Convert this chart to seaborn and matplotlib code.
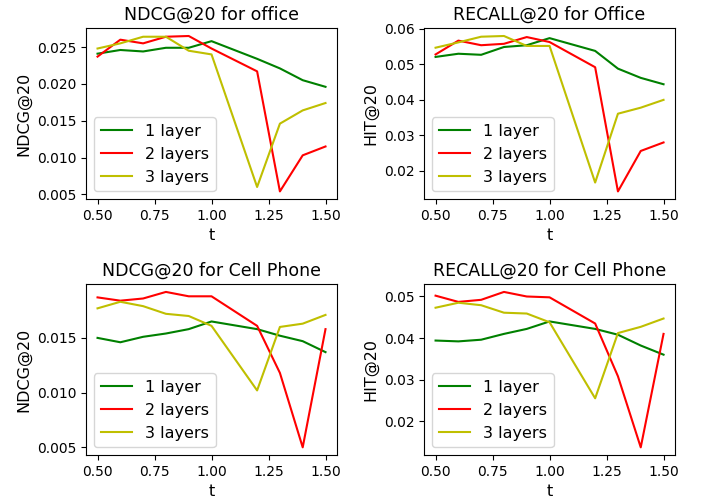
import numpy as np
import pandas as pd
import matplotlib
matplotlib.use("Agg")
import matplotlib.pyplot as plt
import seaborn as sns

# --- data ---
t = [0.5, 0.6, 0.7, 0.8, 0.9, 1.0, 1.2, 1.3, 1.4, 1.5]
layers = ["1 layer", "2 layers", "3 layers"]

ndcg_office_1 = [0.0241, 0.0246, 0.0244, 0.0249, 0.0249, 0.0258, 0.0234, 0.0221, 0.0205, 0.0196]
ndcg_office_2 = [0.0237, 0.0260, 0.0255, 0.0264, 0.0265, 0.0248, 0.0217, 0.0054, 0.0103, 0.0115]
ndcg_office_3 = [0.0248, 0.0255, 0.0264, 0.0264, 0.0245, 0.0240, 0.0060, 0.0146, 0.0164, 0.0174]

recall_office_1 = [0.0521, 0.0530, 0.0527, 0.0549, 0.0554, 0.0574, 0.0538, 0.0488, 0.0462, 0.0444]
recall_office_2 = [0.0528, 0.0567, 0.0554, 0.0558, 0.0577, 0.0563, 0.0492, 0.0142, 0.0256, 0.0280]
recall_office_3 = [0.0547, 0.0562, 0.0578, 0.0580, 0.0552, 0.0552, 0.0167, 0.0361, 0.0378, 0.0400]

ndcg_phone_1 = [0.0150, 0.0146, 0.0151, 0.0154, 0.0158, 0.0165, 0.0158, 0.0152, 0.0147, 0.0137]
ndcg_phone_2 = [0.0187, 0.0184, 0.0186, 0.0192, 0.0188, 0.0188, 0.0161, 0.0118, 0.0050, 0.0158]
ndcg_phone_3 = [0.0177, 0.0183, 0.0179, 0.0172, 0.0170, 0.0161, 0.0102, 0.0160, 0.0163, 0.0171]

recall_phone_1 = [0.0394, 0.0392, 0.0396, 0.0410, 0.0422, 0.0440, 0.0422, 0.0408, 0.0382, 0.0360]
recall_phone_2 = [0.0502, 0.0487, 0.0492, 0.0511, 0.0500, 0.0498, 0.0435, 0.0308, 0.0137, 0.0410]
recall_phone_3 = [0.0473, 0.0485, 0.0479, 0.0461, 0.0459, 0.0438, 0.0255, 0.0412, 0.0427, 0.0447]

panels = [
    ("NDCG@20 for office", "NDCG@20", [ndcg_office_1, ndcg_office_2, ndcg_office_3]),
    ("RECALL@20 for Office", "HIT@20", [recall_office_1, recall_office_2, recall_office_3]),
    ("NDCG@20 for Cell Phone", "NDCG@20", [ndcg_phone_1, ndcg_phone_2, ndcg_phone_3]),
    ("RECALL@20 for Cell Phone", "HIT@20", [recall_phone_1, recall_phone_2, recall_phone_3]),
]

palette = {"1 layer": "g", "2 layers": "r", "3 layers": "y"}

fig, axes = plt.subplots(2, 2, figsize=(7.06, 5.04), dpi=100)
fig.subplots_adjust(left=0.122, right=0.956, top=0.944, bottom=0.097,
                    wspace=0.348, hspace=0.497)

for ax, (title, ylabel, series) in zip(axes.flat, panels):
    df = pd.DataFrame({
        "t": t * 3,
        "value": np.concatenate(series),
        "layer": np.repeat(layers, len(t)),
    })
    sns.lineplot(data=df, x="t", y="value", hue="layer", palette=palette,
                 ax=ax, linewidth=1.5)
    ax.set_title(title, fontsize=12.5)
    ax.set_xlabel("t", fontsize=11.5)
    ax.set_ylabel(ylabel, fontsize=11.5)
    ax.set_xticks([0.5, 0.75, 1.0, 1.25, 1.5])
    ax.legend(loc="lower left", fontsize=11.5)

plt.savefig("out.png", dpi=100)
